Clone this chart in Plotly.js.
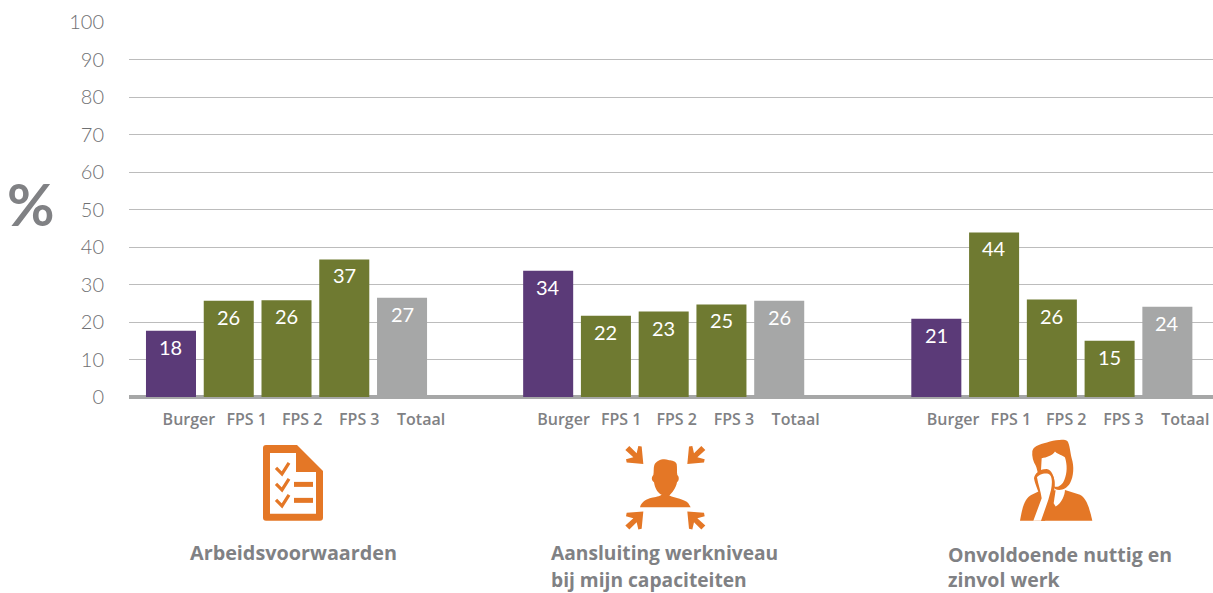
<!DOCTYPE html>
<html><head><meta charset="utf-8">
<script src="https://cdn.plot.ly/plotly-3.0.1.min.js"></script>
<style>html,body{margin:0;padding:0;background:#fff}#c{width:1213px;height:593px}</style>
</head><body><div id="c"></div>
<script>
const categories = ['Burger','FPS 1','FPS 2','FPS 3','Totaal'];
const arbeid = [17.7,25.7,25.8,36.7,26.5];
const aansluiting = [33.7,21.7,22.8,24.7,25.7];
const onvoldoende = [20.9,43.9,26,15,24.1];
const arbeidLabels = ['18','26','26','37','27'];
const aansluitingLabels = ['34','22','23','25','26'];
const onvoldoendeLabels = ['21','44','26','15','24'];
const groupStarts = [0,6.53,13.25];
const labelStarts = [0,6.485,13.23];
const labelOffsets = [0.31,0.31,0.27,0.26,0.33];
const barColors = ['#5b3a78','#6f7a31','#6f7a31','#6f7a31','#a6a7a7'];

const W=1213,H=593,ML=129,MT=21.5,MB=196;
const plotW=W-ML,plotH=H-MT-MB;
const INK='#808184',ORANGE='#e47726';

const allVals=[arbeid,aansluiting,onvoldoende];
const allLabels=[arbeidLabels,aansluitingLabels,onvoldoendeLabels];
const traces=allVals.map((vals,g)=>({
  type:'bar',
  x:vals.map((_,i)=>groupStarts[g]+i),
  y:vals,
  width:0.866,
  marker:{color:barColors,line:{width:0}},
  hoverinfo:'x+y',showlegend:false
}));
const tickvals=[],ticktext=[];
labelStarts.forEach(s=>categories.forEach((c,i)=>{tickvals.push(s+i+labelOffsets[i]);ticktext.push(c);}));

const annotations=[];
allVals.forEach((vals,g)=>vals.forEach((v,i)=>annotations.push({
  x:groupStarts[g]+i,y:v,xref:'x',yref:'y',text:allLabels[g][i],showarrow:false,
  yanchor:'top',yshift:-2,font:{family:'Lato, sans-serif',size:20,weight:400,color:'#ffffff'}
})));
function note(px,py,text,size,xanchor,fam){
  annotations.push({x:(px-ML)/plotW,y:(H-MB-py)/plotH,xref:'paper',yref:'paper',text,showarrow:false,
    xanchor,yanchor:'middle',align:'left',font:{family:fam,size,color:INK}});
}
const HEAD='Open Sans, sans-serif';
note(31,203,'<b>%</b>',58,'center','Lato, sans-serif');
note(188,553,'<b>Arbeidsvoorwaarden</b>',19.8,'left',HEAD);
note(549,553,'<b>Aansluiting werkniveau</b>',19.2,'left',HEAD);
note(549,580,'<b>bij mijn capaciteiten</b>',19.2,'left',HEAD);
note(946,555,'<b>Onvoldoende nuttig en</b>',19.5,'left',HEAD);
note(946,579.5,'<b>zinvol werk</b>',19.5,'left',HEAD);

// icons, written in page pixels and converted to paper coordinates
function P(d){return d.replace(/(-?[\d.]+),(-?[\d.]+)/g,(m,x,y)=>((+x-ML)/plotW).toFixed(5)+','+((H-MB-+y)/plotH).toFixed(5));}
// crop coordinates (3x, origin ox,oy) to page pixels
function C(d,ox,oy){return d.replace(/(-?[\d.]+),(-?[\d.]+)/g,(m,x,y)=>(ox+x/3).toFixed(2)+','+(oy+y/3).toFixed(2));}
const shapes=[];
function fill(d,c){shapes.push({type:'path',xref:'paper',yref:'paper',layer:'above',path:P(d),fillcolor:c||ORANGE,line:{width:0}});}
function stroke(d,w){shapes.push({type:'path',xref:'paper',yref:'paper',layer:'above',path:P(d),fillcolor:'rgba(0,0,0,0)',line:{width:w,color:ORANGE}});}
// checklist document
fill('M266,445 L297,445 L323,471 L323,518 Q323,521 320,521 L266,521 Q263,521 263,518 L263,448 Q263,445 266,445 Z');
fill('M270,453 L296,453 L296,472 L316,472 L316,514 L270,514 Z','#fff');
[0,16,32].forEach(d=>stroke(`M276,${468+d} L282,${474+d} L289,${463+d}`,3.2));
fill('M294,482 L313,482 L313,487 L294,487 Z');
fill('M294,498 L313,498 L313,503 L294,503 Z');
// person with arrows
fill(C('M103,75 C110,60 130,55 145,60 C150,62 165,60 170,72 C172,85 170,95 172,105 C178,110 178,122 171,127 C168,145 155,160 148,167 C165,175 195,178 205,190 L212,202 L60,202 C65,185 80,178 95,174 C105,172 120,170 125,165 C112,158 105,145 102,127 C95,122 93,112 100,105 C102,95 100,85 103,75 Z',620,440));
const arrowPts=[[70,72],[20,68],[18,58],[40,52],[16,30],[28,18],[50,40],[55,18],[65,20]];
[[1,1],[-1,1],[1,-1],[-1,-1]].forEach(([sx,sy])=>{
  const d='M'+arrowPts.map(([x,y])=>(sx>0?x:272-x)+','+(sy>0?y:287-y)).join(' L')+' Z';
  fill(C(d,620,440));
});
// person thinking
const T=d=>C(d,1015,435);
fill(T('M15,258 C22,215 30,190 50,180 L75,168 L150,165 L195,180 C215,190 225,225 232,258 Z'));
fill(T('M122,165 L150,163 C150,180 140,205 122,215 L116,205 Z'),'#fff');
fill(T('M52,48 C58,30 80,28 105,20 C125,14 150,12 157,18 C165,30 165,50 170,70 C178,95 176,125 165,145 C155,162 135,170 120,162 L100,130 L70,118 C66,108 66,100 62,92 C55,80 50,65 52,48 Z'));
fill(T('M80,70 C95,68 112,62 120,50 C130,60 145,62 150,68 C157,90 157,115 148,135 C142,150 130,158 118,155 C120,140 118,125 108,115 C100,108 88,103 78,105 Z'),'#fff');
fill(T('M57,130 C58,118 72,102 95,102 C112,105 122,130 118,165 L108,200 L90,258 L60,258 L78,195 C72,170 60,150 57,130 Z'));
fill(T('M66,128 C68,120 95,110 105,120 C112,128 112,145 108,165 L100,195 L78,258 L55,258 L80,190 C78,172 70,150 66,128 Z'),'#fff');

const layout={
  width:W,height:H,margin:{l:ML,r:0,t:MT,b:MB,pad:0},
  paper_bgcolor:'#fff',plot_bgcolor:'#fff',barmode:'overlay',showlegend:false,
  xaxis:{range:[-0.727,18.04],tickmode:'array',tickvals,ticktext,showgrid:false,zeroline:false,showline:false,
    ticks:'outside',ticklen:8,tickwidth:0,tickcolor:'rgba(0,0,0,0)',tickangle:0,
    tickfont:{family:'Open Sans, sans-serif',size:16,weight:600,color:INK}},
  yaxis:{range:[0,100],tickmode:'array',tickvals:[0,10,20,30,40,50,60,70,80,90,100],
    showgrid:true,gridcolor:'#bcbcbc',gridwidth:1,zeroline:true,zerolinecolor:'#a6a7a7',zerolinewidth:4,showline:false,
    ticks:'outside',ticklen:20,tickwidth:0,tickcolor:'rgba(0,0,0,0)',
    tickfont:{family:'Lato, sans-serif',size:20,weight:300,color:'#6f7072'}},
  annotations,shapes,hovermode:'closest'
};
Plotly.newPlot('c',traces,layout,{displayModeBar:false,responsive:false});
</script></body></html>
